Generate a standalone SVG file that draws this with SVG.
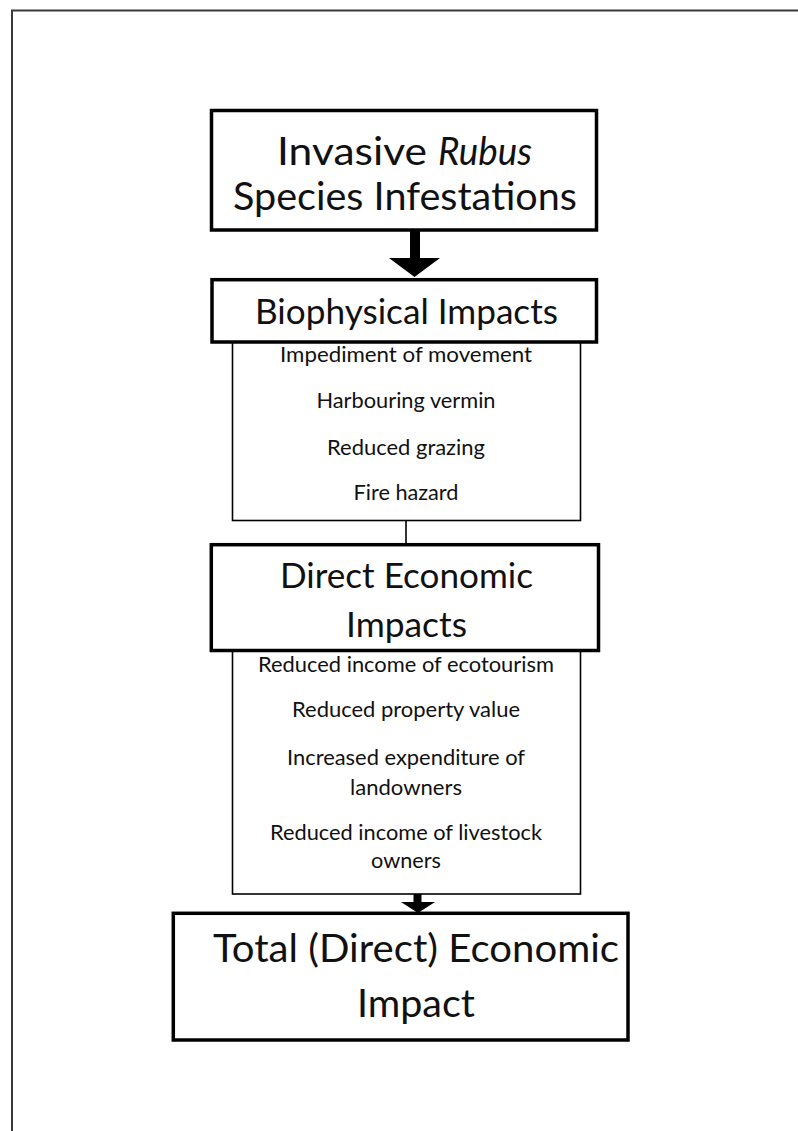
<svg xmlns="http://www.w3.org/2000/svg" width="798" height="1131" viewBox="0 0 798 1131">
  <style>
    .frame { fill: none; stroke: #3a3a3a; stroke-width: 2; }
    .head { fill: #ffffff; stroke: #000000; stroke-width: 3.5; }
    .list { fill: #ffffff; stroke: #000000; stroke-width: 1.6; }
    .big { font-family: Lato, "Liberation Sans", sans-serif; font-size: 39px; fill: #111111; }
    .mid { font-family: Lato, "Liberation Sans", sans-serif; font-size: 34px; fill: #111111; }
    .small { font-family: Lato, "Liberation Sans", sans-serif; font-size: 21px; fill: #111111; text-anchor: middle; }
    .conn { stroke: #000000; fill: none; }
  </style>

  <rect width="798" height="1131" fill="#ffffff"/>
  <!-- page frame, running off the right and bottom edges -->
  <rect class="frame" x="12" y="10.5" width="820" height="1200"/>

  <!-- connectors -->
  <g id="connectors">
    <line class="conn" x1="415" y1="230" x2="415" y2="259" stroke-width="10"/>
    <polygon points="389,258 440,258 414.5,277" fill="#000000"/>
    <line class="conn" x1="406" y1="520" x2="406" y2="545" stroke-width="1.6"/>
    <line class="conn" x1="417.5" y1="894" x2="417.5" y2="903" stroke-width="8"/>
    <polygon points="401,902 435,902 418,913" fill="#000000"/>
  </g>

  <g id="infestations">
    <rect class="head" x="211.5" y="110.5" width="385" height="119.5"/>
    <text class="big" x="277" y="165" textLength="150" lengthAdjust="spacingAndGlyphs">Invasive</text>
    <text class="big" x="438" y="165" font-style="italic" textLength="94" lengthAdjust="spacingAndGlyphs">Rubus</text>
    <text class="big" x="233" y="210" textLength="344" lengthAdjust="spacingAndGlyphs">Species Infestations</text>
  </g>

  <g id="biophysical-list">
    <rect class="list" x="232.5" y="330" width="348" height="190.5"/>
    <text class="small" x="406" y="362" textLength="252" lengthAdjust="spacingAndGlyphs">Impediment of movement</text>
    <text class="small" x="406" y="408" textLength="179" lengthAdjust="spacingAndGlyphs">Harbouring vermin</text>
    <text class="small" x="406" y="455" textLength="158" lengthAdjust="spacingAndGlyphs">Reduced grazing</text>
    <text class="small" x="406" y="500" textLength="105" lengthAdjust="spacingAndGlyphs">Fire hazard</text>
  </g>

  <g id="biophysical">
    <rect class="head" x="212" y="279.7" width="384.5" height="62.3"/>
    <text class="mid" x="255" y="324" textLength="303" lengthAdjust="spacingAndGlyphs">Biophysical Impacts</text>
  </g>

  <g id="economic-list">
    <rect class="list" x="232.5" y="640" width="348" height="254"/>
    <text class="small" x="406" y="672" textLength="296" lengthAdjust="spacingAndGlyphs">Reduced income of ecotourism</text>
    <text class="small" x="406" y="717" textLength="228" lengthAdjust="spacingAndGlyphs">Reduced property value</text>
    <text class="small" x="406" y="765" textLength="238" lengthAdjust="spacingAndGlyphs">Increased expenditure of</text>
    <text class="small" x="406" y="795" textLength="112" lengthAdjust="spacingAndGlyphs">landowners</text>
    <text class="small" x="406" y="840" textLength="272" lengthAdjust="spacingAndGlyphs">Reduced income of livestock</text>
    <text class="small" x="406" y="868" textLength="70" lengthAdjust="spacingAndGlyphs">owners</text>
  </g>

  <g id="direct-economic">
    <rect class="head" x="211.3" y="544.7" width="387.2" height="105.8"/>
    <text class="mid" x="280" y="588" textLength="253" lengthAdjust="spacingAndGlyphs">Direct Economic</text>
    <text class="mid" x="346" y="637" textLength="121" lengthAdjust="spacingAndGlyphs">Impacts</text>
  </g>

  <g id="total">
    <rect class="head" x="173.3" y="913.3" width="454.7" height="126.7"/>
    <text class="big" x="213" y="962" textLength="406" lengthAdjust="spacingAndGlyphs">Total (Direct) Economic</text>
    <text class="big" x="357" y="1017" textLength="118" lengthAdjust="spacingAndGlyphs">Impact</text>
  </g>
</svg>
